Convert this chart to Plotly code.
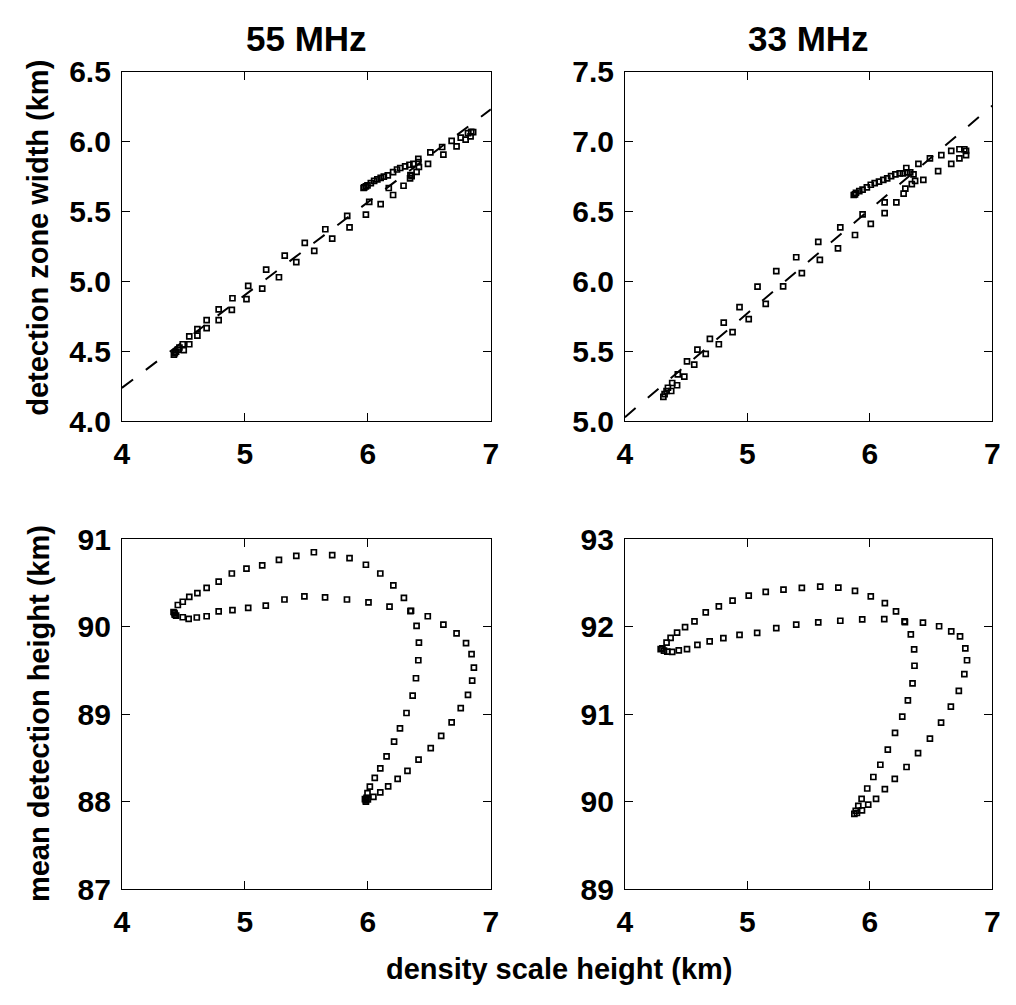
import plotly.graph_objects as go

# ---------------- data ----------------
# 55 MHz: detection zone width vs density scale height
w55_x = [4.423, 4.431, 4.441, 4.455, 4.468, 4.495, 4.503, 4.548, 4.548, 4.614,
         4.614, 4.689, 4.689, 4.787, 4.787, 4.894, 4.899, 5.013, 5.027, 5.141,
         5.173, 5.277, 5.324, 5.418, 5.487, 5.564, 5.654, 5.710, 5.832, 5.851,
         5.984, 6.011, 6.104, 6.205, 6.170, 6.290, 6.343, 6.356, 6.396, 6.415,
         6.410, 6.410, 6.489, 6.508, 6.604, 6.614, 6.681, 6.721, 6.755, 6.795,
         6.814, 6.835, 6.856, 6.840, 5.971, 5.984, 5.997, 6.024, 6.051, 6.077,
         6.104, 6.130, 6.162, 6.205, 6.237, 6.263, 6.303, 6.338, 6.370, 6.346,
         5.965]
w55_y = [4.477, 4.488, 4.498, 4.512, 4.528, 4.551, 4.509, 4.551, 4.608, 4.613,
         4.659, 4.666, 4.724, 4.724, 4.800, 4.797, 4.880, 4.873, 4.968, 4.949,
         5.085, 5.030, 5.184, 5.138, 5.276, 5.219, 5.373, 5.306, 5.468, 5.387,
         5.477, 5.569, 5.553, 5.618, 5.668, 5.684, 5.737, 5.753, 5.783, 5.818,
         5.853, 5.876, 5.841, 5.922, 5.961, 5.906, 6.005, 5.965, 6.028, 6.014,
         6.060, 6.037, 6.067, 6.069, 5.673, 5.680, 5.687, 5.703, 5.719, 5.730,
         5.740, 5.749, 5.758, 5.781, 5.800, 5.811, 5.823, 5.834, 5.841, 5.760,
         5.668]
fit55_x = [4.0, 7.0]
fit55_y = [4.239, 6.230]

# 33 MHz: detection zone width vs density scale height
w33_x = [4.314, 4.324, 4.340, 4.351, 4.378, 4.386, 4.426, 4.432, 4.485, 4.507,
         4.566, 4.592, 4.660, 4.694, 4.767, 4.807, 4.879, 4.936, 5.011, 5.083,
         5.150, 5.236, 5.292, 5.399, 5.445, 5.579, 5.592, 5.740, 5.759, 5.879,
         5.941, 6.008, 6.121, 6.121, 6.217, 6.276, 6.290, 6.343, 6.370, 6.437,
         6.357, 6.330, 6.303, 6.298, 6.271, 6.244, 6.209, 6.174, 6.142, 6.110,
         6.075, 6.040, 6.008, 5.976, 5.941, 5.914, 5.887, 5.869, 5.879, 6.397,
         6.491, 6.558, 6.584, 6.665, 6.665, 6.732, 6.732, 6.786, 6.786, 6.772]
w33_y = [5.175, 5.194, 5.217, 5.240, 5.217, 5.274, 5.258, 5.336, 5.320, 5.429,
         5.406, 5.512, 5.482, 5.590, 5.551, 5.705, 5.638, 5.816, 5.730, 5.963,
         5.839, 6.074, 5.965, 6.173, 6.060, 6.283, 6.154, 6.237, 6.387, 6.332,
         6.479, 6.412, 6.565, 6.488, 6.565, 6.627, 6.664, 6.696, 6.719, 6.726,
         6.765, 6.779, 6.779, 6.811, 6.772, 6.772, 6.765, 6.753, 6.737, 6.726,
         6.714, 6.703, 6.691, 6.673, 6.657, 6.645, 6.634, 6.618, 6.622, 6.841,
         6.880, 6.788, 6.903, 6.841, 6.933, 6.880, 6.945, 6.933, 6.903, 6.945]
fit33_x = [4.0, 7.0]
fit33_y = [5.030, 7.256]

# 55 MHz: mean detection height vs density scale height
h55_x = [4.428, 4.455, 4.495, 4.548, 4.614, 4.689, 4.787, 4.894, 5.013, 5.141,
         5.277, 5.418, 5.561, 5.710, 5.851, 5.984, 6.101, 6.207, 6.293, 6.351,
         6.396, 6.415, 6.410, 6.391, 6.364, 6.314, 6.261, 6.213, 6.152, 6.101,
         6.056, 6.016, 5.997, 5.989, 5.984,
         4.441, 4.495, 4.543, 4.609, 4.689, 4.787, 4.899, 5.027, 5.170, 5.322,
         5.484, 5.652, 5.830, 6.005, 6.176, 6.346, 6.487, 6.614, 6.721, 6.798,
         6.843, 6.862, 6.848, 6.814, 6.755, 6.681, 6.596, 6.511, 6.412, 6.322,
         6.242, 6.165, 6.101, 6.045, 6.000,
         4.420, 4.430, 5.976, 5.984]
h55_y = [90.158, 90.250, 90.287, 90.342, 90.386, 90.445, 90.518, 90.610, 90.665, 90.702,
         90.765, 90.812, 90.853, 90.820, 90.787, 90.710, 90.610, 90.474, 90.331, 90.184,
         90.011, 89.820, 89.618, 89.412, 89.213, 89.015, 88.838, 88.688, 88.518, 88.382,
         88.272, 88.173, 88.099, 88.044, 88.015,
         90.129, 90.110, 90.092, 90.107, 90.121, 90.176, 90.191, 90.217, 90.243, 90.313,
         90.349, 90.338, 90.313, 90.279, 90.232, 90.180, 90.121, 90.026, 89.926, 89.813,
         89.688, 89.533, 89.386, 89.221, 89.070, 88.908, 88.754, 88.614, 88.482, 88.353,
         88.261, 88.176, 88.107, 88.055, 88.026,
         90.170, 90.140, 88.030, 88.000]

# 33 MHz: mean detection height vs density scale height
h33_x = [4.306, 4.340, 4.373, 4.426, 4.491, 4.568, 4.660, 4.767, 4.879, 5.011,
         5.150, 5.295, 5.445, 5.595, 5.743, 5.879, 6.008, 6.123, 6.214, 6.284,
         6.335, 6.362, 6.365, 6.349, 6.311, 6.265, 6.206, 6.147, 6.086, 6.029,
         5.979, 5.933, 5.906, 5.885, 5.874,
         4.319, 4.346, 4.386, 4.440, 4.507, 4.592, 4.692, 4.804, 4.936, 5.080,
         5.236, 5.399, 5.579, 5.759, 5.938, 6.118, 6.287, 6.434, 6.566, 6.665,
         6.737, 6.780, 6.794, 6.772, 6.727, 6.662, 6.582, 6.491, 6.394, 6.300,
         6.204, 6.123, 6.051, 5.987, 5.936, 5.895,
         4.292]
h33_y = [91.754, 91.820, 91.875, 91.934, 91.996, 92.063, 92.165, 92.235, 92.301, 92.357,
         92.401, 92.426, 92.445, 92.460, 92.449, 92.412, 92.349, 92.272, 92.176, 92.063,
         91.915, 91.743, 91.555, 91.353, 91.158, 90.974, 90.787, 90.596, 90.423, 90.283,
         90.151, 90.033, 89.952, 89.897, 89.860,
         91.728, 91.717, 91.713, 91.732, 91.746, 91.794, 91.835, 91.871, 91.908, 91.930,
         91.985, 92.026, 92.051, 92.070, 92.085, 92.088, 92.055, 92.048, 92.007, 91.949,
         91.890, 91.754, 91.618, 91.460, 91.268, 91.088, 90.904, 90.721, 90.555, 90.397,
         90.261, 90.143, 90.033, 89.967, 89.901, 89.871,
         91.746]

x_ticks = [4, 5, 6, 7]
x_ticktext = ["4", "5", "6", "7"]
w55_ticks = [4.0, 4.5, 5.0, 5.5, 6.0, 6.5]
w55_ticktext = ["4.0", "4.5", "5.0", "5.5", "6.0", "6.5"]
w33_ticks = [5.0, 5.5, 6.0, 6.5, 7.0, 7.5]
w33_ticktext = ["5.0", "5.5", "6.0", "6.5", "7.0", "7.5"]
h55_ticks = [87, 88, 89, 90, 91]
h55_ticktext = ["87", "88", "89", "90", "91"]
h33_ticks = [89, 90, 91, 92, 93]
h33_ticktext = ["89", "90", "91", "92", "93"]

titles = ["55 MHz", "33 MHz"]
ylabel_top = "detection zone width (km)"
ylabel_bottom = "mean detection height (km)"
xlabel = "density scale height (km)"

# ---------------- figure ----------------
W, H = 1016, 1005
FONT = "Liberation Sans, Arial, sans-serif"
TICKSIZE = 30
LABELSIZE = 29
TITLESIZE = 35

marker = dict(symbol="square-open", size=5, color="black",
              line=dict(color="black", width=1.7))

fig = go.Figure()


def pts(x, y, xa, ya):
    fig.add_trace(go.Scatter(x=x, y=y, mode="markers", marker=marker,
                             xaxis=xa, yaxis=ya, showlegend=False,
                             hoverinfo="skip"))


def fit(x, y, xa, ya):
    fig.add_trace(go.Scatter(x=x, y=y, mode="lines",
                             line=dict(color="black", width=2, dash="14px,16px"),
                             xaxis=xa, yaxis=ya, showlegend=False,
                             hoverinfo="skip"))


fit(fit55_x, fit55_y, "x", "y")
pts(w55_x, w55_y, "x", "y")
fit(fit33_x, fit33_y, "x2", "y2")
pts(w33_x, w33_y, "x2", "y2")
pts(h55_x, h55_y, "x3", "y3")
pts(h33_x, h33_y, "x4", "y4")

left_dom = [115.7 / W, 490.6 / W]
right_dom = [626.8 / W, 1000.0 / W]
top_dom = [1 - 418.5 / H, 1 - 56.5 / H]
bot_dom = [1 - 902.7 / H, 1 - 540.7 / H]

common = dict(showline=True, linecolor="black", linewidth=1, mirror="allticks",
              ticks="inside", ticklen=8, tickcolor="black", tickwidth=1,
              showgrid=False, zeroline=False,
              tickfont=dict(family=FONT, size=TICKSIZE, color="black", weight="bold"))


def xax(dom, anchor):
    return dict(common, domain=dom, anchor=anchor, range=[4, 7],
                tickmode="array", tickvals=x_ticks, ticktext=x_ticktext,
                ticklabelstandoff=6)


def yax(dom, anchor, rng, tv, tt):
    return dict(common, domain=dom, anchor=anchor, range=rng,
                tickmode="array", tickvals=tv, ticktext=tt,
                ticklabelstandoff=4)


fig.update_layout(
    width=W, height=H,
    margin=dict(l=0, r=0, t=0, b=0),
    paper_bgcolor="white", plot_bgcolor="white",
    xaxis=xax(left_dom, "y"),
    yaxis=yax(top_dom, "x", [4.0, 6.5], w55_ticks, w55_ticktext),
    xaxis2=xax(right_dom, "y2"),
    yaxis2=yax(top_dom, "x2", [5.0, 7.5], w33_ticks, w33_ticktext),
    xaxis3=xax(left_dom, "y3"),
    yaxis3=yax(bot_dom, "x3", [87, 91], h55_ticks, h55_ticktext),
    xaxis4=xax(right_dom, "y4"),
    yaxis4=yax(bot_dom, "x4", [89, 93], h33_ticks, h33_ticktext),
)

lab_font = dict(family=FONT, size=LABELSIZE, color="black", weight="bold")
title_font = dict(family=FONT, size=TITLESIZE, color="black", weight="bold")
ann = [
    dict(text=titles[0], x=sum(left_dom) / 2, y=1 - 22 / H, font=title_font),
    dict(text=titles[1], x=sum(right_dom) / 2, y=1 - 22 / H, font=title_font),
    dict(text=ylabel_top, x=31 / W, y=1 - 229 / H, textangle=-90, font=lab_font),
    dict(text=ylabel_bottom, x=31 / W, y=1 - 721 / H, textangle=-90, font=lab_font),
    dict(text=xlabel, x=560 / W, y=1 - 985 / H, font=lab_font),
]
for a in ann:
    fig.add_annotation(xref="paper", yref="paper", showarrow=False,
                       xanchor="center", yanchor="middle", **a)

fig.write_html("out.html")
